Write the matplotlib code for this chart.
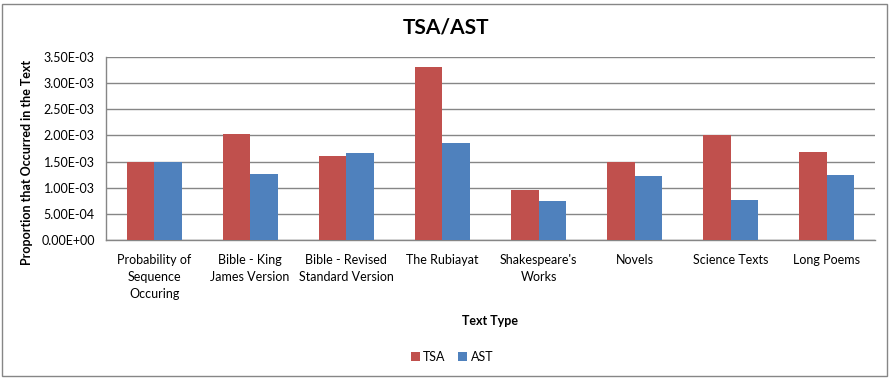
import matplotlib.pyplot as plt
import numpy as np
from matplotlib.patches import Rectangle
from matplotlib.ticker import FuncFormatter

plt.rcParams['font.family'] = ['Lato', 'DejaVu Sans']

# data
categories = ['Probability of\nSequence\nOccuring', 'Bible - King\nJames Version',
              'Bible - Revised\nStandard Version', 'The Rubiayat',
              "Shakespeare's\nWorks", 'Novels', 'Science Texts', 'Long Poems']
tsa = [1.50e-3, 2.03e-3, 1.60e-3, 3.30e-3, 0.96e-3, 1.50e-3, 2.01e-3, 1.69e-3]
ast = [1.50e-3, 1.27e-3, 1.67e-3, 1.86e-3, 0.74e-3, 1.23e-3, 0.77e-3, 1.25e-3]
yticks = np.arange(0, 3.51e-3, 5e-4)

red = '#C0504D'
blue = '#4F81BD'
grid = '#868686'

fig = plt.figure(figsize=(8.92, 3.79), dpi=100)
ax = fig.add_axes([106 / 892, 1 - 240 / 379, (875 - 106) / 892, (240 - 57) / 379])

x = np.arange(len(categories))
w = 1 / 3.5
ax.bar(x - w / 2, tsa, w, color=red, label='TSA', zorder=3)
ax.bar(x + w / 2, ast, w, color=blue, label='AST', zorder=3)

ax.set_xlim(-0.5, len(categories) - 0.5)
ax.set_ylim(0, 3.5e-3)
ax.set_yticks(yticks)
ax.yaxis.set_major_formatter(FuncFormatter(lambda v, p: f'{v:.2E}'))
ax.set_xticks(x)
ax.set_xticklabels(categories, fontsize=9, linespacing=1.5, va='top')
ax.tick_params(axis='both', length=0, labelsize=9, colors='black')
ax.tick_params(axis='x', pad=10)
ax.tick_params(axis='y', pad=8)
ax.grid(axis='y', color=grid, linewidth=1, zorder=0)
for s in ['top', 'right']:
    ax.spines[s].set_visible(False)
for s in ['left', 'bottom']:
    ax.spines[s].set_color(grid)
    ax.spines[s].set_linewidth(1)

fig.text(0.5, 1 - 28 / 379, 'TSA/AST', ha='center', va='center',
         fontsize=15, fontweight='bold')
fig.text(27 / 892, 1 - 162 / 379, 'Proportion that Occurred in the Text', rotation=90,
         ha='center', va='center', fontsize=9, fontweight='bold')
fig.text(490 / 892, 1 - 321 / 379, 'Text Type', ha='center', va='center',
         fontsize=9, fontweight='bold')

fig.legend(loc='center', bbox_to_anchor=(452 / 892, 1 - 357 / 379), ncol=2,
           frameon=False, fontsize=9, handlelength=0.7, handleheight=0.7,
           handletextpad=0.3, columnspacing=1.0)

fig.patches.append(Rectangle((2 / 892, 3 / 379), 885 / 892, 372 / 379,
                             transform=fig.transFigure, fill=False,
                             edgecolor=grid, linewidth=1))

fig.savefig('out.png', dpi=100, facecolor='white')
